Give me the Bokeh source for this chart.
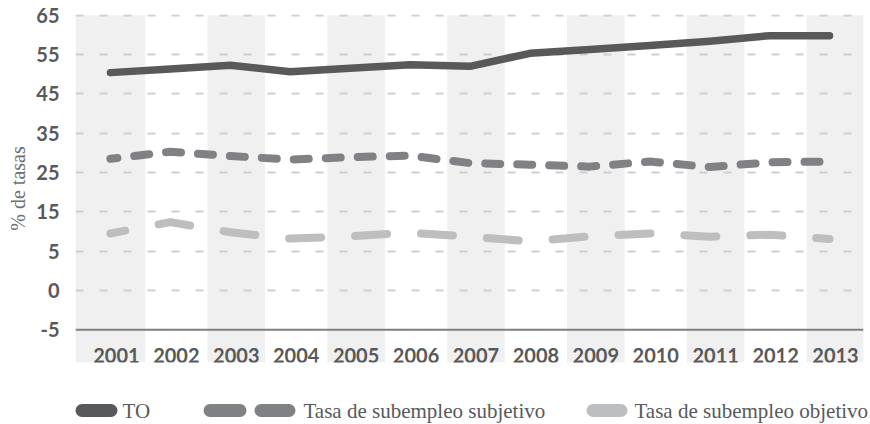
from bokeh.plotting import figure
from bokeh.layouts import column
from bokeh.models import FixedTicker, Span, Range1d, Title
from bokeh.core.properties import value
from bokeh.embed import file_html
from bokeh.resources import INLINE

# ---- data ----
years = ["2001", "2002", "2003", "2004", "2005", "2006", "2007",
         "2008", "2009", "2010", "2011", "2012", "2013"]
to_rate = [50.4, 51.3, 52.3, 50.6, 51.5, 52.4, 52.0, 55.3, 56.3, 57.3, 58.4, 59.8, 59.8]
subj_rate = [28.5, 30.3, 29.2, 28.3, 28.9, 29.3, 27.4, 27.0, 26.5, 27.8, 26.4, 27.6, 27.8]
obj_rate = [9.5, 12.4, 9.8, 8.2, 8.8, 9.7, 8.7, 7.5, 8.8, 9.5, 8.7, 9.2, 8.1]
series_names = ["TO", "Tasa de subempleo subjetivo", "Tasa de subempleo objetivo"]
# tick positions (scale position) and the labels printed there
y_ticks = [-15, -5, 5, 15, 25, 35, 45, 55, 65]
y_tick_labels = ["-5", "0", "5", "15", "25", "35", "45", "55", "65"]
y_title = "% de tasas"

# ---- styles ----
C_TO = "#58595b"
C_SUBJ = "#808184"
C_OBJ = "#bcbec0"
C_BAND = "#f0f0f0"
C_TEXT = "#58595b"

idx = list(range(len(years)))
x_start, x_end = -0.683, 12.467
y_start, y_end = -23.3, 65.18

p = figure(width=869, height=369, x_range=Range1d(x_start, x_end),
           y_range=Range1d(y_start, y_end), output_backend="svg",
           toolbar_location=None, x_axis_location=None,
           min_border_left=74, min_border_right=6, min_border_top=14,
           min_border_bottom=7)
p.frame_align = False
p.outline_line_color = None
p.background_fill_color = "white"
p.border_fill_color = "white"

# alternating bands
band_idx = idx[::2]
lefts = [i - 0.48 for i in band_idx]
lefts[0] = x_start
rights = [i + 0.48 for i in band_idx]
p.quad(left=lefts, right=rights, top=y_ticks[-1], bottom=y_start,
       fill_color=C_BAND, line_color=None, level="image")

# y axis
ya = p.yaxis[0]
ya.ticker = FixedTicker(ticks=y_ticks)
ya.major_label_overrides = {t: l for t, l in zip(y_ticks, y_tick_labels)}
ya.axis_line_color = None
ya.major_tick_line_color = None
ya.minor_tick_line_color = None
ya.major_label_text_font = "Lato"
ya.major_label_text_font_style = "bold"
ya.major_label_text_font_size = "20px"
ya.major_label_text_color = C_TEXT
ya.major_label_standoff = 10

p.add_layout(Title(text=y_title, align="center", offset=11, standoff=9,
                   text_font="Liberation Serif", text_font_style="normal",
                   text_font_size="20px", text_color="#6d6e71"), "left")

p.xgrid.visible = False
p.ygrid.ticker = FixedTicker(ticks=y_ticks[1:])
p.ygrid.grid_line_color = "#cfcfcf"
p.ygrid.grid_line_width = 2
p.ygrid.grid_line_dash = "8 16"

p.add_layout(Span(location=y_ticks[0], dimension="width",
                  line_color="#7f7f7f", line_width=2))

# lines
xs = [i - 0.1 for i in idx]
p.line(xs, to_rate, line_color=C_TO, line_width=7.5,
       line_cap="round", line_join="round")
p.line(xs, subj_rate, line_color=C_SUBJ, line_width=8, line_dash="15 17",
       line_dash_offset=8, line_cap="round", line_join="round")
p.line(xs, obj_rate, line_color=C_OBJ, line_width=8, line_dash="32 34",
       line_dash_offset=17, line_cap="round", line_join="round")

# year labels
p.text(x=idx, y=[y_ticks[0]] * len(idx), text=years, y_offset=26,
       text_align="center", text_baseline="alphabetic",
       text_font=value("Lato"), text_font_style="bold",
       text_font_size="20px", text_color=C_TEXT)

# ---- legend ----
lf = figure(width=869, height=54, x_range=Range1d(1, 870), y_range=Range1d(0, 54),
            output_backend="svg", toolbar_location=None,
            x_axis_location=None, y_axis_location=None, min_border=0)
lf.frame_align = False
lf.outline_line_color = None
lf.xgrid.visible = False
lf.ygrid.visible = False
ly = 13
lf.segment(x0=[82.5], y0=[ly], x1=[111.5], y1=[ly], line_color=C_TO,
           line_width=13, line_cap="round")
lf.segment(x0=[210.5, 261.5], y0=[ly, ly], x1=[240.5, 289.5], y1=[ly, ly],
           line_color=C_SUBJ, line_width=13, line_cap="round")
lf.segment(x0=[593.5], y0=[ly], x1=[621.5], y1=[ly], line_color=C_OBJ,
           line_width=13, line_cap="round")
lf.text(x=[123, 304, 635], y=[ly] * 3, text=series_names,
        text_align="left", text_baseline="middle",
        text_font=value("Liberation Serif"), text_font_size="21px",
        text_color=C_TEXT)

layout = column(p, lf, spacing=0)
open("out.html", "w").write(file_html(layout, INLINE))
